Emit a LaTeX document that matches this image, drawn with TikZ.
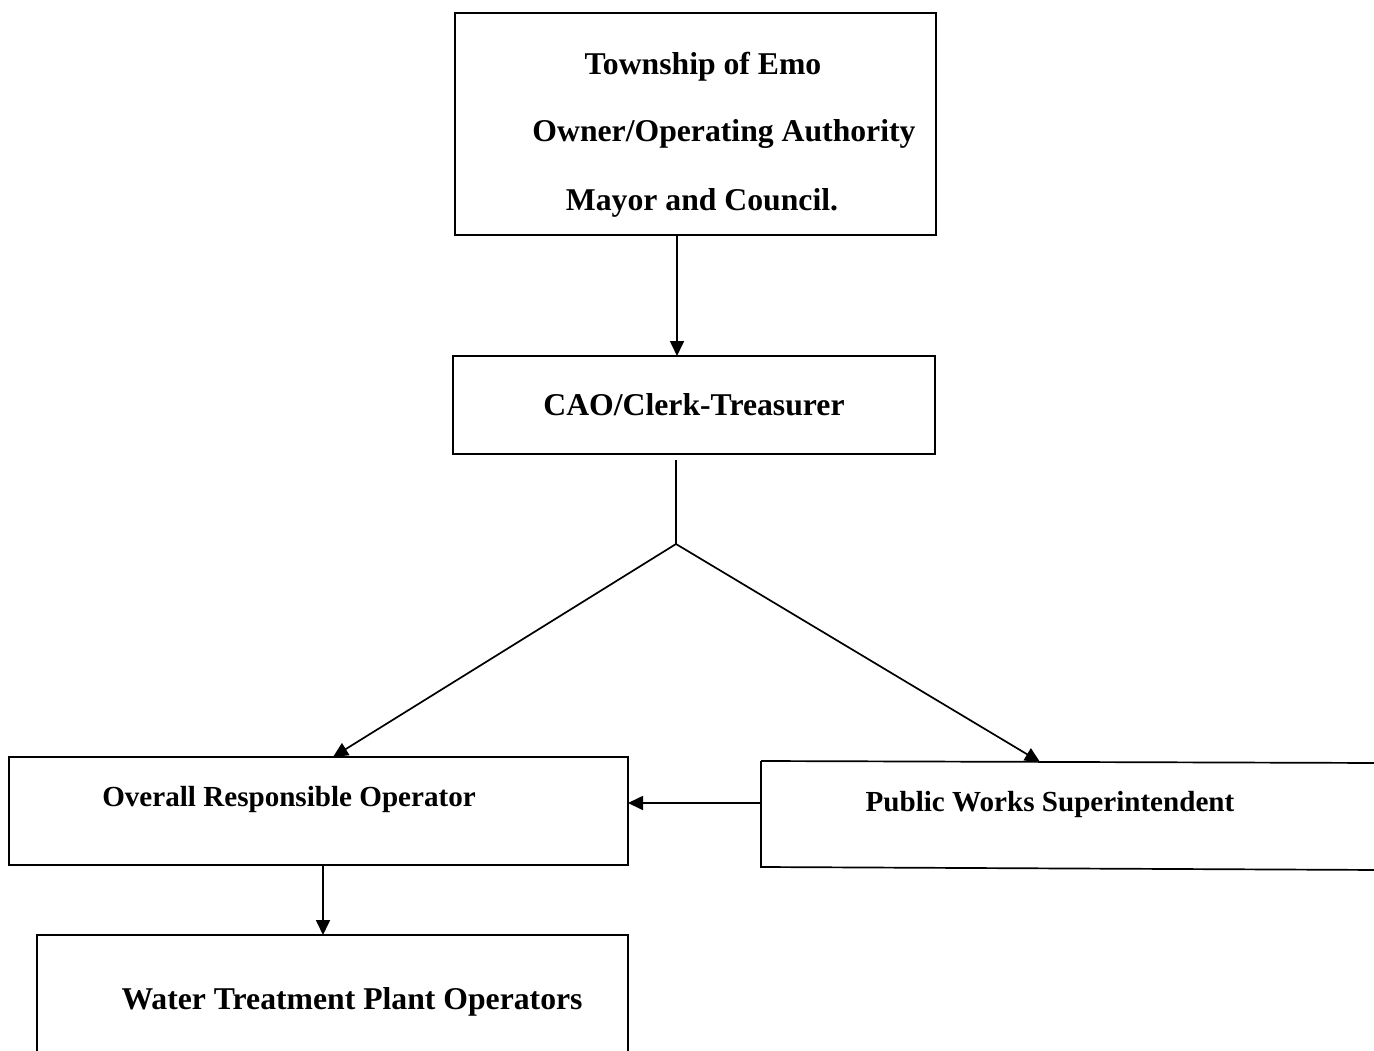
\documentclass[tikz,border=0pt]{standalone}
\usepackage{fontspec}
\setmainfont{Liberation Serif}
\usetikzlibrary{arrows.meta}
\begin{document}
\begin{tikzpicture}[x=1pt,y=-1pt,
  box/.style={draw=black,line width=1.7pt},
  lbl/.style={anchor=base,inner sep=0pt,font=\fontsize{31.7}{36}\selectfont\bfseries},
  lbls/.style={anchor=base,inner sep=0pt,font=\fontsize{29.1}{34}\selectfont\bfseries},
  conn/.style={draw=black,line width=1.7pt},
  arr/.style={conn,-{Triangle[length=15pt,width=14pt]}}]
\useasboundingbox (0,0) rectangle (1374,1051);
\fill[white] (0,0) rectangle (1374,1051);
% boxes
\draw[box] (455,13) rectangle (936,235);
\coordinate (top) at (677,235);
\node[lbl] (t1) at (703,75) {Township of Emo};
\node[lbl] (t2) at (724,142) {Owner/Operating Authority};
\node[lbl] (t3) at (702,211) {Mayor and Council.};
\draw[box] (453,356) rectangle (935,454);
\coordinate (caotop) at (677,356);
\node[lbl] (cao) at (694,415) {CAO/Clerk-Treasurer};
\coordinate (caobot) at (676,460);
\coordinate (split) at (676,544);
\draw[box] (9,757) rectangle (628,865);
\coordinate (orotop) at (333,757);
\coordinate (ororight) at (628,803);
\coordinate (orobot) at (323,865);
\node[lbls] (oro) at (289,806) {Overall Responsible Operator};
\draw[box] (761,761) -- (1380,763) (761,761) -- (761,867) -- (1380,870);
\coordinate (pwstop) at (1040,762);
\coordinate (pwsleft) at (761,803);
\node[lbls] (pws) at (1050,811) {Public Works Superintendent};
\draw[box] (37,1060) -- (37,935) -- (628,935) -- (628,1060);
\coordinate (wtptop) at (323,935);
\node[lbl] (wtp) at (352,1009) {Water Treatment Plant Operators};
% connectors
\draw[arr] (top) -- (caotop);
\draw[conn] (caobot) -- (split);
\draw[arr] (split) -- (orotop);
\draw[arr] (split) -- (pwstop);
\draw[arr] (pwsleft) -- (ororight);
\draw[arr] (orobot) -- (wtptop);
\end{tikzpicture}
\end{document}
